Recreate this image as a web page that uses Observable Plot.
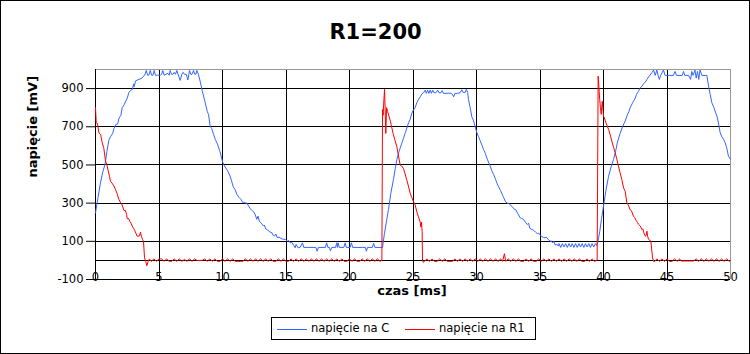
<!DOCTYPE html>
<html>
<head>
<meta charset="utf-8">
<script src="https://cdn.jsdelivr.net/npm/d3@7"></script>
<script src="https://cdn.jsdelivr.net/npm/@observablehq/plot@0.6"></script>
<style>
  html, body { margin: 0; padding: 0; background: white; }
  #wrap { position: relative; width: 750px; height: 354px; background: white; font-family: "DejaVu Sans", sans-serif; overflow: hidden; }
  #wrap svg { position: absolute; left: 0; top: 0; }
  #border { position: absolute; left: 0; top: 0; width: 750px; height: 354px; box-sizing: border-box; border: 1px solid black; pointer-events: none; }
  #legend { position: absolute; left: 271px; top: 317px; width: 265px; height: 23px; box-sizing: border-box; border: 1px solid black; background: white; font-size: 11.5px; color: black; }
  #legend .sw { position: absolute; top: 11px; height: 0; border-top: 1px solid; }
  #legend .lb { position: absolute; top: 3px; line-height: 15px; white-space: nowrap; }
</style>
</head>
<body>
<div id="wrap"><div id="legend"></div><div id="border"></div></div>
<script>
// ---- data (czas [ms], napięcie [mV]) ----
const title = "R1=200";
const xLabel = "czas [ms]";
const yLabel = "napięcie [mV]";
const seriesNames = ["napięcie na C", "napięcie na R1"];
const seriesColors = ["#3366ff", "#ff0000"];
const xTicks = [0, 5, 10, 15, 20, 25, 30, 35, 40, 45, 50];
const yTicks = [-100, 100, 300, 500, 700, 900];

const napiecieC = [
  [0,249],[0.2,330],[0.4,410],[0.6,470],[0.74,500],[0.9,570],[1.05,630],[1.2,650],[1.35,665],[1.45,690],[1.6,712],[1.75,715],[1.85,745],[2.0,760],[2.1,800],[2.25,815],[2.35,830],[2.5,850],[2.63,880],[2.75,890],[2.9,895],[3.0,925],[3.05,910],[3.15,940],[3.3,945],[3.5,950],[3.65,955],
  [3.8,965],[3.9,975],[4.0,995],[4.1,970],[4.2,970],[4.31,995],[4.42,970],[4.52,970],[4.62,995],[4.72,970],[4.9,970],[5.1,970],[5.2,975],[5.3,995],[5.4,970],[5.55,975],[5.7,980],[5.8,970],[5.88,995],[5.98,975],[6.1,975],[6.2,985],[6.3,975],[6.41,995],[6.5,975],[6.67,943],[6.8,975],[6.9,985],[7.0,975],[7.15,975],[7.27,945],[7.35,975],[7.4,995],[7.5,975],[7.6,975],[7.72,995],[7.82,975],[7.9,975],[7.98,995],[8.1,975],
  [8.24,939],[8.4,890],[8.55,850],[8.64,826],[8.8,780],[8.9,765],[9.03,703],[9.15,690],[9.3,660],[9.43,634],[9.6,610],[9.8,570],[10.03,511],[10.2,490],[10.4,470],[10.6,441],[10.7,420],[10.85,385],[11.0,370],[11.13,346],[11.3,330],[11.45,320],[11.6,303],[11.75,302],[11.92,300],[12.05,285],[12.2,270],[12.35,260],[12.45,255],[12.57,241],[12.7,215],[12.8,232],[12.9,205],[13.05,195],[13.23,180],[13.3,185],[13.4,165],[13.55,160],[13.7,150],[13.89,145],[14.0,130],[14.1,128],[14.2,138],[14.3,120],[14.45,122],[14.54,118],[14.7,112],[14.94,110],[15.1,101],[15.2,105],[15.33,92],[15.46,95],[15.6,80],[15.72,66],[15.8,84],[15.95,66],[16.1,68],[16.3,92],[16.4,68],
  [16.8,68],[17.2,68],[17.35,68],[17.45,48],[17.55,68],[18.0,68],[18.1,68],[18.2,92],[18.3,68],[18.42,68],[18.5,50],[18.6,68],[18.9,68],[19.0,92],[19.05,68],[19.1,92],[19.2,68],[19.55,68],[19.66,92],[19.75,68],[20.05,68],[20.15,92],[20.25,68],[20.6,68],[21.0,68],[21.25,68],[21.33,48],[21.42,68],[21.8,68],[21.9,90],[22.0,68],[22.6,68],
  [22.75,140],[22.9,200],[23.07,267],[23.25,350],[23.46,424],[23.6,480],[23.73,529],[23.9,570],[24.13,616],[24.25,640],[24.4,670],[24.55,700],[24.65,721],[24.78,739],[24.9,770],[25.05,790],[25.17,800],[25.3,826],[25.45,845],[25.6,860],
  [25.7,872],[25.85,880],[25.96,892],[26.05,875],[26.15,892],[26.25,875],[26.35,892],[26.45,875],[26.55,892],[26.65,878],[26.8,878],[26.95,892],[27.05,878],[27.2,878],[27.3,890],[27.4,875],[27.6,875],[27.8,876],[28.0,875],[28.1,870],[28.2,857],[28.3,875],[28.5,875],[28.7,878],[28.85,894],[28.95,880],[29.1,880],[29.2,896],[29.3,880],
  [29.37,843],[29.5,800],[29.64,750],[29.75,735],[29.9,700],[30.03,668],[30.15,650],[30.3,625],[30.45,600],[30.55,581],[30.7,560],[30.85,530],[31.08,494],[31.2,470],[31.35,450],[31.5,425],[31.6,406],[31.75,385],[31.9,365],[32.1,335],[32.26,311],[32.4,300],[32.55,298],[32.78,284],[32.95,270],[33.1,265],[33.25,245],[33.44,223],[33.55,220],[33.7,215],[33.85,200],[34.0,188],[34.1,195],[34.2,168],[34.36,162],[34.5,158],[34.65,148],[34.8,140],[34.9,143],[35.02,132],[35.15,125],[35.3,120],[35.4,118],[35.5,122],[35.67,108],[35.8,100],[35.9,102],[36.0,92],[36.1,100],[36.2,80],[36.33,85],[36.45,75],
  [36.5,88],[36.63,68],[36.76,88],[36.89,70],[37.02,88],[37.15,68],[37.28,88],[37.41,70],[37.54,88],[37.67,68],[37.8,88],[37.93,68],[38.06,88],[38.19,70],[38.32,88],[38.45,68],[38.58,88],[38.71,70],[38.84,88],[38.97,68],[39.1,88],[39.23,70],[39.36,88],[39.45,78],
  [39.55,95],[39.7,150],[39.85,220],[40.0,284],[40.2,370],[40.4,441],[40.6,490],[40.79,529],[40.95,570],[41.1,620],[41.32,668],[41.5,700],[41.6,715],[41.71,730],[41.84,756],[42.0,780],[42.1,800],[42.25,820],[42.36,834],[42.5,850],[42.6,870],[42.75,885],[42.89,904],[43.0,910],[43.15,925],[43.3,935],[43.42,948],[43.6,965],[43.81,983],
  [43.94,997],[44.07,969],[44.2,997],[44.3,969],[44.4,948],[44.5,969],[44.72,997],[44.85,969],[45.2,969],[45.5,969],[45.63,990],[45.75,969],[46.2,969],[46.3,990],[46.4,969],[46.7,969],[46.86,948],[46.95,990],[47.05,969],[47.2,997],[47.3,955],[47.4,990],[47.5,948],[47.6,997],[47.75,969],[48.14,969],
  [48.27,913],[48.4,870],[48.53,826],[48.7,800],[48.85,770],[48.93,756],[49.05,720],[49.19,668],[49.3,650],[49.45,635],[49.58,616],[49.7,590],[49.84,546],[50,530]
];

const napiecieR1 = [
  [0,800],[0.06,720],[0.15,718],[0.27,668],[0.4,660],[0.53,616],[0.65,590],[0.79,520],[0.9,500],[1.0,470],[1.1,440],[1.18,415],[1.3,405],[1.45,390],[1.57,372],[1.7,350],[1.84,320],[1.95,305],[2.1,290],[2.24,262],[2.35,262],[2.45,240],[2.5,218],[2.6,220],[2.7,205],[2.8,195],[2.89,180],[3.0,168],[3.1,155],[3.2,140],[3.28,127],[3.4,127],[3.47,128],[3.54,148],[3.62,125],[3.7,110],[3.78,100],[3.86,14],[3.95,-5],[4.04,-28],[4.15,-5],[4.25,8],
  [4.4,-5],[4.6,8],[4.8,-5],[5.0,8],[5.2,8],[5.4,-5],[5.6,8],[5.8,-5],[6.0,-5],[6.2,8],[6.4,-5],[6.6,8],[6.8,-5],[7.0,5],[7.2,-5],[7.4,8],[7.6,-5],[7.8,8],[8.0,0],[8.2,0],[8.4,0],[8.6,8],[8.8,-5],[9.0,8],[9.2,-5],[9.4,8],[9.6,-5],[9.8,-5],[10.0,8],[10.2,-5],[10.4,8],[10.6,-5],[10.8,8],[11.0,-5],[11.2,-5],[11.4,-5],[11.6,-5],[11.8,8],[12.0,-5],[12.2,8],[12.4,-5],[12.6,8],[12.8,-5],[13.0,8],[13.2,-5],[13.4,8],[13.6,-5],[13.8,8],[14.0,-5],[14.2,-5],[14.4,8],[14.6,-5],[14.8,8],[15.0,-5],[15.2,-5],[15.4,8],[15.6,-5],[15.8,8],[16.0,-5],[16.2,8],[16.4,-5],[16.6,8],[16.8,-5],[17.0,8],[17.2,-5],[17.4,8],[17.6,-5],[17.8,8],[18.0,-5],[18.2,8],[18.4,-5],[18.6,8],[18.8,-5],[19.0,8],[19.2,-5],[19.4,8],[19.6,-5],[19.8,-5],[20.0,8],[20.2,-5],[20.4,8],[20.6,-5],[20.8,-5],[21.0,8],[21.2,-5],[21.4,8],[21.6,-5],[21.8,8],[22.0,-5],[22.2,8],[22.4,-5],
  [22.55,0],[22.6,790],[22.65,760],[22.7,830],[22.76,896],[22.82,760],[22.86,665],[22.92,800],[23.0,780],[23.2,735],[23.45,660],[23.73,595],[23.99,499],[24.1,495],[24.25,482],[24.52,420],[24.78,351],[24.9,330],[25.05,307],[25.17,290],[25.3,255],[25.43,228],[25.56,202],[25.62,175],[25.67,200],[25.72,150],[25.75,0],[25.8,-10],
  [25.9,-5],[26.1,8],[26.3,-5],[26.5,8],[26.7,-5],[26.9,-5],[27.1,8],[27.3,-5],[27.5,8],[27.7,-5],[27.9,-5],[28.1,-5],[28.3,8],[28.5,-5],[28.7,8],[28.9,-5],[29.1,8],[29.3,-5],[29.5,8],[29.7,-5],[29.9,8],[30.1,-5],[30.3,8],[30.5,-5],[30.7,8],[30.9,-5],[31.1,8],[31.3,-5],[31.5,8],[31.7,-5],[31.9,8],[32.05,-5],[32.2,35],[32.3,-5],[32.5,8],[32.7,-5],[32.9,8],[33.1,-5],[33.3,8],[33.5,-5],[33.7,-5],[33.9,8],[34.1,-5],[34.3,8],[34.5,-5],[34.7,-5],[34.9,8],[35.1,-5],[35.3,8],[35.5,-5],[35.7,8],[35.9,-5],[36.1,8],[36.3,-5],[36.5,8],[36.7,-5],[36.9,8],[37.1,-5],[37.3,8],[37.5,-5],[37.7,8],[37.9,-5],[38.1,8],[38.3,-5],[38.5,-5],[38.7,8],[38.9,-5],[39.1,8],[39.3,-5],[39.45,0],
  [39.5,0],[39.58,965],[39.7,843],[39.76,800],[39.82,765],[39.9,834],[40.0,756],[40.1,740],[40.2,720],[40.4,686],[40.52,660],[40.65,625],[40.8,590],[40.92,564],[41.05,530],[41.18,494],[41.3,460],[41.44,424],[41.58,380],[41.71,362],[41.84,302],[41.95,290],[42.1,265],[42.2,260],[42.36,232],[42.45,225],[42.56,210],[42.66,200],[42.76,189],[42.9,180],[43.02,162],[43.1,165],[43.2,140],[43.29,127],[43.35,130],[43.42,153],[43.48,125],[43.55,110],[43.65,105],[43.73,101],[43.86,14],[43.95,-5],[44.05,-5],
  [44.2,8],[44.4,-5],[44.6,8],[44.8,-5],[45.0,8],[45.2,-5],[45.4,-5],[45.6,8],[45.8,-5],[46.0,8],[46.1,-3],[47.1,-3],[47.3,8],[47.5,-5],[47.7,8],[47.9,-5],[48.1,8],[48.3,-5],[48.5,8],[48.7,-5],[48.9,8],[49.1,-5],[49.3,8],[49.5,-5],[49.7,8],[49.9,-5],[50,0]
];

// ---- chart ----
const FONT = "DejaVu Sans";
const chart = Plot.plot({
  width: 750,
  height: 300,
  marginTop: 69,
  marginBottom: 21,
  marginLeft: 95,
  marginRight: 20,
  x: {domain: [0, 50], axis: null},
  y: {domain: [-100, 1000], label: null},
  style: {fontFamily: FONT, fontSize: "11.5px", color: "black", background: "white", overflow: "visible"},
  marks: [
    Plot.ruleY(yTicks, {stroke: "black", strokeOpacity: 1, shapeRendering: "crispEdges"}),
    Plot.ruleY([0], {stroke: "black", shapeRendering: "crispEdges"}),
    Plot.ruleX(xTicks.filter(d => d > 0 && d < 50), {stroke: "black", shapeRendering: "crispEdges"}),
    Plot.ruleY([1000], {stroke: "#999999", shapeRendering: "crispEdges"}),
    Plot.ruleX([50], {stroke: "#999999", shapeRendering: "crispEdges"}),
    Plot.ruleX([0], {stroke: "black", shapeRendering: "crispEdges"}),
    Plot.axisY({ticks: yTicks, tickSize: 9, tickPadding: 3, fontSize: 11.5, label: null, tickFormat: d => String(d)}),
    Plot.line(napiecieC, {x: d => d[0], y: d => d[1], stroke: seriesColors[0], strokeWidth: 1}),
    Plot.line(napiecieR1, {x: d => d[0], y: d => d[1], stroke: seriesColors[1], strokeWidth: 1}),
    Plot.text(xTicks, {x: d => d, frameAnchor: "bottom", dy: -2, lineAnchor: "middle", text: d => String(d), fontSize: 11.5, fill: "black"}),
    Plot.text([xLabel], {frameAnchor: "bottom", dx: -1, dy: 11, lineAnchor: "middle", fontWeight: "bold", fontSize: 13, fill: "black"}),
    Plot.text([yLabel], {frameAnchor: "left", dx: -63, dy: 3, rotate: -90, lineAnchor: "middle", fontWeight: "bold", fontSize: 13, fill: "black"}),
    Plot.text([title], {frameAnchor: "top", dx: -37.5, dy: -37, lineAnchor: "middle", fontWeight: "bold", fontSize: 21, fill: "black"})
  ]
});
const wrap = document.getElementById("wrap");
wrap.insertBefore(chart, wrap.firstChild);

// ---- legend ----
const legend = document.getElementById("legend");
const items = [
  {name: seriesNames[0], color: seriesColors[0], sw: 5, lb: 39},
  {name: seriesNames[1], color: seriesColors[1], sw: 133, lb: 167}
];
for (const it of items) {
  const s = document.createElement("div");
  s.className = "sw";
  s.style.left = it.sw + "px";
  s.style.width = "30px";
  s.style.borderTopColor = it.color;
  legend.appendChild(s);
  const l = document.createElement("div");
  l.className = "lb";
  l.style.left = it.lb + "px";
  l.textContent = it.name;
  legend.appendChild(l);
}
</script>
</body>
</html>
